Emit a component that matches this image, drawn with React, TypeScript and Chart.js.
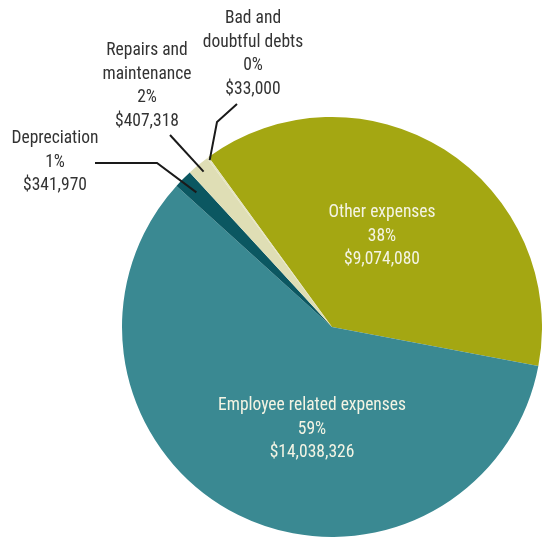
import React, { useEffect, useRef } from "react";
import { Chart, registerables } from "chart.js";

Chart.register(...registerables);

const categories = [
  "Other expenses",
  "Employee related expenses",
  "Depreciation",
  "Repairs and maintenance",
  "Bad and doubtful debts",
];
const values = [9074080, 14038326, 341970, 407318, 33000];
const percentLabels = ["38%", "59%", "1%", "2%", "0%"];
const amountLabels = ["$9,074,080", "$14,038,326", "$341,970", "$407,318", "$33,000"];
const nameLines = [
  ["Other expenses"],
  ["Employee related expenses"],
  ["Depreciation"],
  ["Repairs and", "maintenance"],
  ["Bad and", "doubtful debts"],
];
const colors = ["#a4a712", "#3a8992", "#0b5761", "#dfdeb5", "#e4e3c0"];

const FONT = '"Liberation Sans Narrow", "Roboto Condensed", "Open Sans", sans-serif';

// label layout: text block center (x, first line middle y), optional leader path
const labelLayout: any[] = [
  { x: 382, y: 213, inside: true },
  { x: 312, y: 406, inside: true },
  { x: 55, y: 139, leader: [[95, 163], [157, 163]], r: 0.91 },
  { x: 147, y: 51, leader: [[170, 135]], r: 0.96 },
  { x: 253, y: 19, leader: [[237, 104], [217, 122]], r: 0.985 },
];

const labelPlugin = {
  id: "pieLabels",
  afterDatasetsDraw(chart: any) {
    const ctx = chart.ctx;
    const meta = chart.getDatasetMeta(0);
    ctx.save();
    meta.data.forEach((arc: any, i: number) => {
      const lay = labelLayout[i];
      const { x, y, startAngle, endAngle, outerRadius } = arc.getProps(
        ["x", "y", "startAngle", "endAngle", "outerRadius"],
        true
      );
      if (lay.leader) {
        const mid = (startAngle + endAngle) / 2;
        const ex = x + Math.cos(mid) * outerRadius * lay.r;
        const ey = y + Math.sin(mid) * outerRadius * lay.r;
        ctx.beginPath();
        ctx.strokeStyle = "#1a1a1a";
        ctx.lineWidth = 2;
        lay.leader.forEach((p: number[], k: number) => {
          if (k === 0) ctx.moveTo(p[0], p[1]);
          else ctx.lineTo(p[0], p[1]);
        });
        ctx.lineTo(ex, ey);
        ctx.stroke();
      }
      const lines = [...nameLines[i], percentLabels[i], amountLabels[i]];
      ctx.font = `17.5px ${FONT}`;
      ctx.fillStyle = lay.inside ? "#f4f4e4" : "#333333";
      ctx.textAlign = "center";
      ctx.textBaseline = "middle";
      lines.forEach((t, k) => {
        ctx.fillText(t, lay.x, lay.y + k * 23.5);
      });
    });
    ctx.restore();
  },
};

export default function App() {
  const ref = useRef<HTMLCanvasElement>(null);
  useEffect(() => {
    if (!ref.current) return;
    const chart = new Chart(ref.current, {
      type: "pie",
      data: {
        labels: categories,
        datasets: [
          {
            data: values,
            backgroundColor: colors,
            borderWidth: 0,
          },
        ],
      },
      options: {
        responsive: true,
        maintainAspectRatio: false,
        animation: false,
        rotation: -36,
        layout: { padding: { left: 122, right: 0, top: 117, bottom: 5 } },
        plugins: {
          legend: { display: false },
          tooltip: { enabled: false },
        },
      },
      plugins: [labelPlugin],
    });
    return () => chart.destroy();
  }, []);
  return (
    <div
      style={{
        position: "fixed",
        left: 0,
        top: 0,
        width: 542,
        height: 542,
        background: "#ffffff",
      }}
    >
      <canvas ref={ref} />
    </div>
  );
}
